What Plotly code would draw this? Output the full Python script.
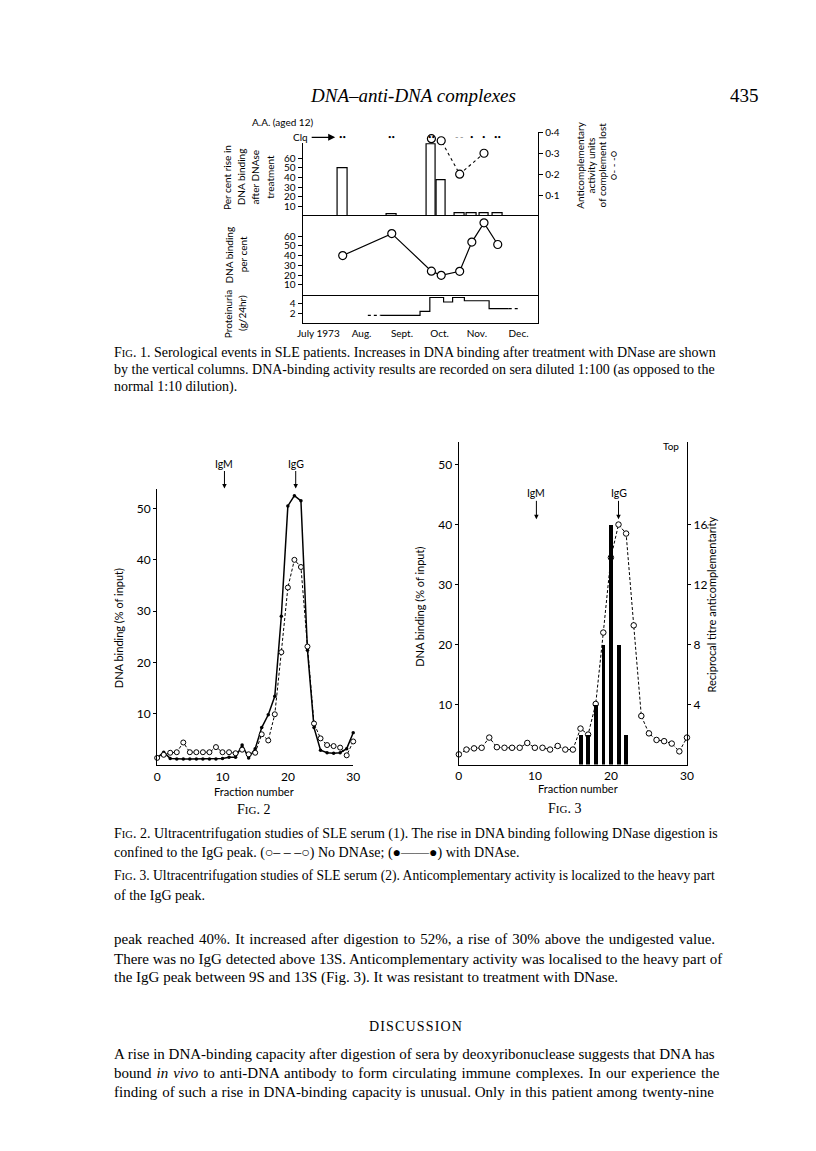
import plotly.graph_objects as go

W, H = 816, 1151
def px(x): return x / W
def py(y): return 1 - y / H

SANS = "Lato"
SERIF = "Liberation Serif"
HAIR = "\u200a"

# ---------------- Fig 1 data ----------------
month_labels = ["July 1973", "Aug.", "Sept.", "Oct.", "Nov.", "Dec."]
month_label_pos = [0.40, 1.50, 2.53, 3.49, 4.44, 5.50]
month_tick_marks = [1.02, 2.27, 4.0, 5.0]

sample_dates = [1.02, 2.27, 3.28, 3.53, 4.00, 4.31, 4.62, 4.97]
rise_pct = [50, 2, 75, 37, 2.5, 2.5, 2.5, 2.5]
dna_pct = [40, 62.5, 24, 19.7, 23.8, 53.8, 73.5, 51.3]
clq_marks = ["••", "••", "••", "", "– –", "•", "•", "••"]

anticomp_dates = [3.28, 3.53, 4.00, 4.62]
anticomp_units = [0.37, 0.36, 0.20, 0.30]

prot_dates = [1.98, 2.99, 3.24, 3.59, 3.82, 4.12, 4.75, 5.25]
prot_g = [1.6, 2.4, 5.2, 4.3, 5.2, 4.55, 2.95, 2.95]
prot_dotted_pre_dates = [1.66, 1.98]
prot_dotted_pre = [1.6, 1.6]
prot_dotted_post_dates = [5.25, 5.50]
prot_dotted_post = [2.95, 2.95]

# ---------------- Fig 2 data ----------------
fractions = list(range(0, 31))
fig2_no_dnase = [1.4, 2.0, 2.4, 2.5, 4.4, 2.5, 2.5, 2.5, 2.5, 3.5, 2.5, 2.5, 2.3, 3.0, 2.1,
                 2.4, 6.0, 4.8, 9.9, 22.0, 34.6, 40.0, 38.6, 23.1, 8.1, 5.2, 3.9, 3.7, 3.4, 1.9, 4.6]
fig2_dnase = [1.4, 2.5, 1.3, 1.2, 1.2, 1.2, 1.2, 1.2, 1.2, 1.2, 1.3, 1.5, 1.5, 3.9, 1.4,
              3.2, 7.3, 9.8, 13.4, 29.0, 50.5, 52.5, 51.5, 22.4, 7.3, 2.9, 2.4, 2.3, 2.4, 3.2, 6.3]

# ---------------- Fig 3 data ----------------
fig3_dna = [1.7, 2.5, 2.7, 2.8, 4.5, 2.9, 2.8, 2.8, 2.8, 3.6, 2.8, 2.8, 2.5, 3.1, 2.5,
            2.5, 6.0, 5.0, 10.1, 22.0, 34.5, 40.0, 38.5, 23.2, 8.1, 5.2, 4.1, 3.9, 3.5, 2.2, 4.5]
fig3_bar_fractions = [16, 17, 18, 19, 20, 21, 22]
fig3_titre = [2, 2, 4, 8, 16, 8, 2]

# ---------------- Text ----------------
header_title = "DNA–anti-DNA complexes"
page_number = "435"
sc = "<span style='font-size:10.5px'>IG</span>"
caption_fig1 = [f"F{sc}. 1. Serological events in SLE patients. Increases in DNA binding after treatment with DNase are shown",
                "by the vertical columns. DNA-binding activity results are recorded on sera diluted 1:100 (as opposed to the",
                "normal 1:10 dilution)."]
caption_fig2 = [f"F{sc}. 2. Ultracentrifugation studies of SLE serum (1). The rise in DNA binding following DNase digestion is",
                "confined to the IgG peak. (○– – –○) No DNAse; (●——●) with DNAse."]
caption_fig3 = [f"F{sc}. 3. Ultracentrifugation studies of SLE serum (2). Anticomplementary activity is localized to the heavy part",
                "of the IgG peak."]
caption_fig3_sizes = [13.6, 14]
body_results = ["peak reached 40%. It increased after digestion to 52%, a rise of 30% above the undigested value.",
                "There was no IgG detected above 13S. Anticomplementary activity was localised to the heavy part of",
                "the IgG peak between 9S and 13S (Fig. 3). It was resistant to treatment with DNase."]
body_results_stretch = [1, 0, 0]
section_heading = HAIR.join("DISCUSSION")
body_discussion = ["A rise in DNA-binding capacity after digestion of sera by deoxyribonuclease suggests that DNA has",
                   "bound <i>in vivo</i> to anti-DNA antibody to form circulating immune complexes. In our experience the",
                   "finding of such a rise in DNA-binding capacity is unusual. Only in this patient among twenty-nine"]
body_discussion_stretch = [0, 1, 2]


def stretch(s, every):
    """Widen word gaps with hair spaces (every n-th gap) to mimic justified setting."""
    if not every:
        return s
    parts = s.split(" ")
    out = parts[0]
    for i, p in enumerate(parts[1:]):
        out += (" " + HAIR if i % every == 0 else " ") + p
    return out


fig = go.Figure()

# ---- Fig 1 traces ----
fig.add_trace(go.Bar(x=sample_dates, y=rise_pct, width=0.24,
                     marker=dict(color="white", line=dict(color="black", width=1.2)),
                     xaxis="x", yaxis="y"))
fig.add_trace(go.Scatter(x=anticomp_dates, y=anticomp_units, mode="lines+markers",
                         line=dict(color="black", width=1.1, dash="dot"),
                         marker=dict(symbol="circle", size=8, color="white",
                                     line=dict(color="black", width=1.2)),
                         xaxis="x", yaxis="y4", cliponaxis=False))
fig.add_trace(go.Scatter(x=sample_dates, y=dna_pct, mode="lines+markers",
                         line=dict(color="black", width=1.2),
                         marker=dict(symbol="circle", size=8, color="white",
                                     line=dict(color="black", width=1.2)),
                         xaxis="x2", yaxis="y2"))
fig.add_trace(go.Scatter(x=prot_dates, y=prot_g, mode="lines", line_shape="hv",
                         line=dict(color="black", width=1.2), xaxis="x", yaxis="y3"))
fig.add_trace(go.Scatter(x=prot_dotted_pre_dates, y=prot_dotted_pre, mode="lines",
                         line=dict(color="black", width=1.2, dash="dot"), xaxis="x", yaxis="y3"))
fig.add_trace(go.Scatter(x=prot_dotted_post_dates, y=prot_dotted_post, mode="lines",
                         line=dict(color="black", width=1.2, dash="dot"), xaxis="x", yaxis="y3"))

# ---- Fig 2 traces ----
fig.add_trace(go.Scatter(x=fractions, y=fig2_dnase, mode="lines+markers",
                         line=dict(color="black", width=1.5),
                         marker=dict(symbol="circle", size=3.5, color="black"),
                         xaxis="x4", yaxis="y5", cliponaxis=False))
fig.add_trace(go.Scatter(x=fractions, y=fig2_no_dnase, mode="lines+markers",
                         line=dict(color="black", width=1.0, dash="3px,2px"),
                         marker=dict(symbol="circle", size=5, color="white",
                                     line=dict(color="black", width=1)),
                         xaxis="x4", yaxis="y5", cliponaxis=False))

# ---- Fig 3 traces ----
fig.add_trace(go.Scatter(x=fractions, y=fig3_dna, mode="lines+markers",
                         line=dict(color="black", width=1.0, dash="3px,2px"),
                         marker=dict(symbol="circle", size=5.5, color="white",
                                     line=dict(color="black", width=1)),
                         xaxis="x6", yaxis="y6", cliponaxis=False))
fig.add_trace(go.Bar(x=fig3_bar_fractions, y=fig3_titre, width=0.5,
                     marker=dict(color="black", line=dict(width=0)),
                     xaxis="x6", yaxis="y7"))

ax_common = dict(showgrid=False, zeroline=False, linecolor="black", linewidth=1.3,
                 tickcolor="black", tickwidth=1.2, fixedrange=True)
f1_tick = dict(family=SANS, size=10, color="black")
f2_tick = dict(family=SANS, size=12, color="black")

fig.update_layout(
    width=W, height=H, autosize=False,
    margin=dict(l=0, r=0, t=0, b=0),
    paper_bgcolor="white", plot_bgcolor="rgba(0,0,0,0)",
    showlegend=False, bargap=0,
    # Fig 1
    xaxis=dict(domain=[px(294), px(533)], range=[0, 6], anchor="y3", showline=True,
               tickmode="array", tickvals=month_label_pos, ticktext=month_labels,
               ticks="", tickfont=f1_tick, **ax_common),
    xaxis2=dict(domain=[px(294), px(533)], range=[0, 6], anchor="y2", showline=True,
                mirror=True, showticklabels=False, ticks="", **ax_common),
    xaxis3=dict(overlaying="x", anchor="y3", range=[0, 6], tickmode="array",
                tickvals=month_tick_marks, ticks="inside", ticklen=6,
                showticklabels=False, showline=False, **ax_common),
    yaxis=dict(domain=[py(203), py(130)], range=[0, 75.6], anchor="x", showline=True,
               tickmode="array", tickvals=[10, 20, 30, 40, 50, 60], ticks="outside",
               ticklen=4, tickfont=f1_tick, **ax_common),
    yaxis4=dict(domain=[py(203), py(119)], side="right", anchor="x", range=[0, 0.4],
                showline=True, tickmode="array", tickvals=[0.1, 0.2, 0.3, 0.4],
                ticktext=["0·1", "0·2", "0·3", "0·4"], ticks="outside", ticklen=4,
                tickfont=f1_tick, **ax_common),
    yaxis2=dict(domain=[py(282), py(203)], range=[0, 80.6], anchor="x2", showline=True,
                mirror=True, tickmode="array", tickvals=[10, 20, 30, 40, 50, 60],
                ticks="outside", ticklen=4, tickfont=f1_tick, **ax_common),
    yaxis3=dict(domain=[py(311), py(282)], range=[0, 5.8], anchor="x", showline=True,
                mirror=True, tickmode="array", tickvals=[2, 4], ticks="outside",
                ticklen=4, tickfont=f1_tick, **ax_common),
    # Fig 2
    xaxis4=dict(domain=[px(146.3), px(345.3)], range=[0, 30], anchor="y5", showline=True,
                tickmode="array", tickvals=[0, 10, 20, 30], ticks="", tickfont=f2_tick,
                **ax_common),
    xaxis5=dict(overlaying="x4", anchor="y5", range=[0, 30], tickmode="array",
                tickvals=[30], ticks="inside", ticklen=5, showticklabels=False,
                showline=False, **ax_common),
    yaxis5=dict(domain=[py(755), py(477)], range=[0, 53.9], anchor="x4", showline=True,
                tickmode="array", tickvals=[10, 20, 30, 40, 50], ticks="outside",
                ticklen=3, tickfont=f2_tick, **ax_common),
    # Fig 3
    xaxis6=dict(domain=[px(452.5), px(684)], range=[0, 30], anchor="y6", showline=True,
                tickmode="array", tickvals=[0, 10, 20, 30], ticks="", tickfont=f2_tick,
                **ax_common),
    yaxis6=dict(domain=[py(754.5), py(430)], range=[0, 53.8], anchor="x6", showline=True,
                tickmode="array", tickvals=[10, 20, 30, 40, 50], ticks="outside",
                ticklen=3, tickfont=f2_tick, **ax_common),
    yaxis7=dict(overlaying="y6", side="right", anchor="x6", range=[0, 21.52],
                showline=True, tickmode="array", tickvals=[4, 8, 12, 16],
                ticks="outside", ticklen=3, tickfont=f2_tick, **ax_common),
)

ann = []
def text(x, y, s, size, family=SANS, angle=0, xanchor="center", xref="paper"):
    ann.append(dict(x=x if xref != "paper" else px(x), y=py(y), xref=xref, yref="paper",
                    text=s, showarrow=False, textangle=angle, xanchor=xanchor,
                    yanchor="middle", font=dict(family=family, size=size, color="black")))

# header
text(406, 82, f"<i>{header_title}</i>", 19, SERIF)
text(742, 82, page_number, 19, SERIF)

# Fig 1 labels
text(274, 109, "A.A. (aged 12)", 10)
text(301, 124, "Clq", 10, xanchor="right")
ann.append(dict(x=px(327), y=py(124), xref="paper", yref="paper", ax=-25, ay=0,
                text="", showarrow=True, arrowhead=2, arrowsize=1, arrowwidth=1.4,
                arrowcolor="black"))
for d, m in zip(sample_dates, clq_marks):
    if m:
        text(d, 123, m, 6, xref="x")
for i, s in enumerate(["Per cent rise in", "DNA binding", "after DNAse", "treatment"]):
    text(217 + 14.5 * i, 164, s, 10, angle=-90)
for i, s in enumerate(["Anticomplementary", "activity units", "of complement lost", "○- - -○"]):
    text(576 + 11 * i, 152, s, 10, angle=-90)
text(219, 242, "DNA binding", 10, angle=-90)
text(233, 242, "per cent", 10, angle=-90)
text(219, 302, "Proteinuria", 10, angle=-90)
text(233, 301, "(g/24hr)", 10, angle=-90)

# Fig 2 labels
text(107, 617, "DNA binding (% of input)", 11, angle=-90)
text(245, 782, "Fraction number", 11)
text(244, 800, "F<span style='font-size:11px'>IG</span>. 2", 14, SERIF)

# Fig 3 labels
text(413, 596, "DNA binding (% of input)", 11, angle=-90)
text(709, 594, "Reciprocal titre anticomplementarity", 11, angle=-90)
text(573, 779, "Fraction number", 11)
text(560, 799, "F<span style='font-size:11px'>IG</span>. 3", 14, SERIF)
text(668, 434, "Top", 10)

def marker_label(xv, xref, head_y, s, dy=25):
    ann.append(dict(x=xv, y=py(head_y), xref=xref, yref="paper", ax=0, ay=-dy,
                    text=s, showarrow=True, arrowhead=2, arrowsize=0.9, arrowwidth=1,
                    arrowcolor="black", font=dict(family=SANS, size=10.5, color="black")))

marker_label(10.3, "x4", 477, "IgM")
marker_label(21.2, "x4", 477, "IgG")
marker_label(10.2, "x6", 508, "IgM", 26)
marker_label(21.0, "x6", 508, "IgG", 26)

# captions and body
for i, s in enumerate(caption_fig1):
    text(100, 340 + 17.5 * i, s, 14, SERIF, xanchor="left")
for i, s in enumerate(caption_fig2):
    text(100, 824 + 19 * i, s, 14, SERIF, xanchor="left")
for i, (s, fs) in enumerate(zip(caption_fig3, caption_fig3_sizes)):
    text(100, 867 + 19 * i, s, fs, SERIF, xanchor="left")
for i, (s, k) in enumerate(zip(body_results, body_results_stretch)):
    text(100, 930 + 19.5 * i, stretch(s, k), 15, SERIF, xanchor="left")
text(408, 1018, section_heading, 14, SERIF)
for i, (s, k) in enumerate(zip(body_discussion, body_discussion_stretch)):
    text(100, 1045 + 19.5 * i, stretch(s, k), 15, SERIF, xanchor="left")

fig.update_layout(annotations=ann)
fig.write_html("out.html")
